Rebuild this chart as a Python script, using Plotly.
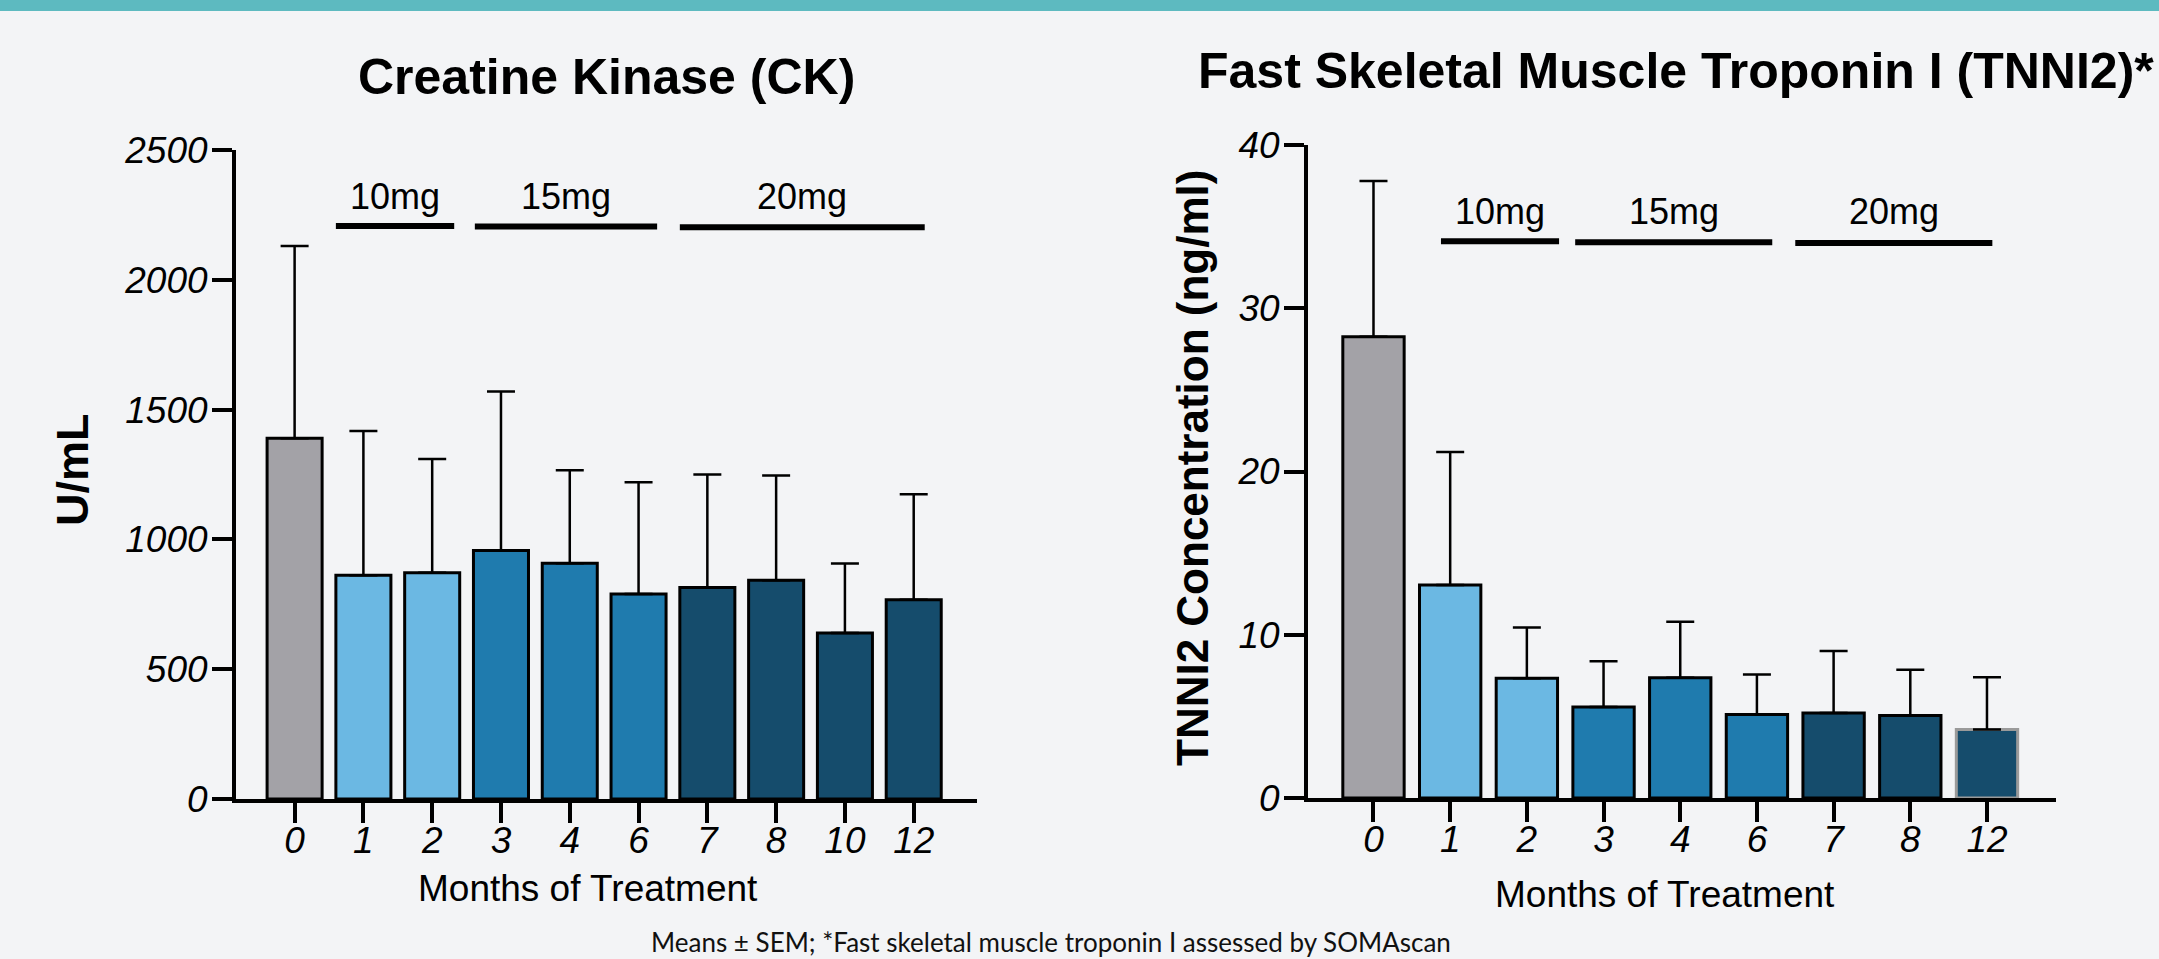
import plotly.graph_objects as go

W, H = 2159, 959

# ---------------- data ----------------
ck_months = ["0", "1", "2", "3", "4", "6", "7", "8", "10", "12"]
ck_mean = [1390, 862, 872, 957, 908, 790, 815, 843, 639, 768]
ck_sem = [740, 556, 438, 613, 358, 430, 435, 403, 268, 406]
ck_dose = ["base", "10", "10", "15", "15", "15", "20", "20", "20", "20"]

tn_months = ["0", "1", "2", "3", "4", "6", "7", "8", "12"]
tn_mean = [28.25, 13.05, 7.34, 5.57, 7.36, 5.12, 5.2, 5.06, 4.2]
tn_sem = [9.55, 8.15, 3.11, 2.81, 3.44, 2.44, 3.8, 2.79, 3.2]
tn_dose = ["base", "10", "10", "15", "15", "15", "20", "20", "20"]

dose_labels = ["10mg", "15mg", "20mg"]
ck_dose_start = [0.6, 2.62, 5.6]
ck_dose_end = [2.32, 5.27, 9.16]
ck_dose_y = [2207, 2205, 2202]
ck_dose_label_y = 2320
tn_dose_start = [0.88, 2.63, 5.5]
tn_dose_end = [2.42, 5.2, 8.07]
tn_dose_y = [34.1, 34.05, 34.0]
tn_dose_label_y = 35.9

ck_ticks = [0, 500, 1000, 1500, 2000, 2500]
tn_ticks = [0, 10, 20, 30, 40]

# ---------------- styles ----------------
dose_colors = {"base": "#A3A2A7", "10": "#6BB8E3", "15": "#1F7BAE", "20": "#154C6C"}
BG = "#F3F4F6"
FONT = "Liberation Sans, Arial, sans-serif"

def px_x(p):
    return p / W

def px_y(p):
    return 1 - p / H

fig = go.Figure()

def add_bars(x, y, err, dose, xa, ya, line_colors):
    fig.add_trace(go.Bar(
        x=x, y=y, xaxis=xa, yaxis=ya, width=0.80,
        marker=dict(color=[dose_colors[d] for d in dose],
                    line=dict(color=line_colors, width=3)),
        error_y=dict(type="data", symmetric=False, array=err,
                     arrayminus=[0] * len(err), color="black",
                     thickness=2.5, width=14),
        showlegend=False, hoverinfo="x+y",
    ))

add_bars(ck_months, ck_mean, ck_sem, ck_dose, "x", "y", ["black"] * len(ck_mean))
tn_lines = ["black"] * (len(tn_mean) - 1) + ["#9A9A9A"]
add_bars(tn_months, tn_mean, tn_sem, tn_dose, "x2", "y2", tn_lines)

axis_common = dict(showline=True, linewidth=4, linecolor="black",
                   ticks="outside", ticklen=20, tickwidth=4, tickcolor="black",
                   showgrid=False, zeroline=False, automargin=False,
                   tickfont=dict(family=FONT, size=37, color="black", style="italic"))

fig.update_layout(
    width=W, height=H,
    margin=dict(l=0, r=0, t=0, b=0, pad=0, autoexpand=False),
    paper_bgcolor=BG, plot_bgcolor="rgba(0,0,0,0)",
    bargap=0.2,
    xaxis=dict(domain=[px_x(236), px_x(977)], type="category",
               range=[-0.852, 9.92], anchor="y", ticklabelstandoff=-14,
               **axis_common),
    yaxis=dict(domain=[px_y(799), px_y(150)], range=[0, 2500],
               tickvals=ck_ticks, anchor="x", ticklabelstandoff=-3, **axis_common),
    xaxis2=dict(domain=[px_x(1308), px_x(2056)], type="category",
                range=[-0.854, 8.90], anchor="y2", ticklabelstandoff=-14,
                **axis_common),
    yaxis2=dict(domain=[px_y(798), px_y(145)], range=[0, 40],
                tickvals=tn_ticks, anchor="x2", ticklabelstandoff=-3, **axis_common),
)

shapes = [dict(type="rect", xref="paper", yref="paper", x0=0, x1=1,
               y0=px_y(11), y1=1, fillcolor="#5DBAC0", line=dict(width=0),
               layer="below")]
annotations = []

for lab, s, e, yy in zip(dose_labels, ck_dose_start, ck_dose_end, ck_dose_y):
    shapes.append(dict(type="line", xref="x", yref="y", x0=s, x1=e, y0=yy, y1=yy,
                       line=dict(color="black", width=6)))
    annotations.append(dict(xref="x", yref="y", x=(s + e) / 2, y=ck_dose_label_y,
                            text=lab, showarrow=False,
                            font=dict(family=FONT, size=36, color="black")))
for lab, s, e, yy in zip(dose_labels, tn_dose_start, tn_dose_end, tn_dose_y):
    shapes.append(dict(type="line", xref="x2", yref="y2", x0=s, x1=e, y0=yy, y1=yy,
                       line=dict(color="black", width=6)))
    annotations.append(dict(xref="x2", yref="y2", x=(s + e) / 2, y=tn_dose_label_y,
                            text=lab, showarrow=False,
                            font=dict(family=FONT, size=36, color="black")))

def paper_text(text, x, y, size, family=FONT, weight="normal", xanchor="center",
               angle=0, color="black"):
    annotations.append(dict(xref="paper", yref="paper", x=px_x(x), y=px_y(y),
                            text=text, showarrow=False, xanchor=xanchor,
                            yanchor="middle", textangle=angle,
                            font=dict(family=family, size=size, color=color,
                                      weight=weight)))

paper_text("Creatine Kinase (CK)", 606, 77, 50, weight="bold")
paper_text("Fast Skeletal Muscle Troponin I (TNNI2)*", 1196, 71, 50,
           weight="bold", xanchor="left")
paper_text("U/mL", 72, 470, 45, weight="bold", angle=-90)
paper_text("TNNI2 Concentration (ng/ml)", 1192, 468, 44, weight="bold", angle=-90)
paper_text("Months of Treatment", 588, 888, 37)
paper_text("Months of Treatment", 1665, 894, 37)
paper_text("Means ± SEM; *Fast skeletal muscle troponin I assessed by SOMAscan",
           1051, 942, 26, family="Lato, Open Sans, sans-serif", color="#111111")

fig.update_layout(shapes=shapes, annotations=annotations)

fig.write_html("out.html", config={"displayModeBar": False},
               post_script="document.body.style.margin='0';document.body.style.overflow='hidden';")
